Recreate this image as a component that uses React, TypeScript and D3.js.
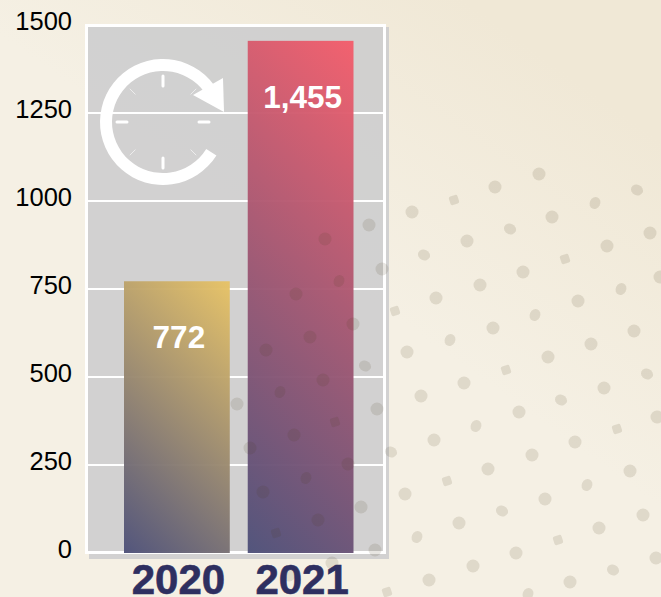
import React, { useEffect, useRef } from "react";
import * as d3 from "d3";

const years = ["2020", "2021"];
const values = [772, 1455];
const valueLabels = ["772", "1,455"];
const barTopColors = ["#e8c365", "#f45d6b"];
const yTicks = [0, 250, 500, 750, 1000, 1250, 1500];

// background dots
const roundDots = [
  [539, 174], [495, 187], [412, 212], [552, 217], [467, 241], [607, 246], [650, 233], [523, 272],
  [480, 285], [436, 298], [578, 301], [493, 328], [634, 331], [591, 344], [407, 352], [548, 357],
  [464, 383], [421, 396], [604, 388], [519, 412], [434, 440], [575, 442], [532, 455], [488, 469],
  [630, 471], [405, 494], [545, 499], [459, 523], [599, 528], [643, 515], [516, 553], [473, 566],
  [429, 580], [570, 582], [656, 558], [657, 417], [660, 277], [369, 225], [382, 269], [325, 239],
  [296, 294], [353, 324], [310, 337], [266, 350], [323, 380], [377, 409], [237, 404], [294, 435],
  [250, 448], [348, 464], [263, 492], [361, 507], [318, 520], [375, 550], [332, 563], [289, 575],
];
const ovalDots = [
  [339, 281], [365, 366], [280, 392], [391, 452], [306, 478], [424, 255], [510, 229], [595, 203],
  [637, 190], [621, 289], [535, 315], [450, 340], [647, 374], [561, 400], [476, 426], [587, 485],
  [502, 511], [417, 537], [613, 570], [528, 594],
];
const squareDots = [
  [454, 200], [565, 259], [395, 311], [506, 370], [617, 429], [447, 481], [558, 540], [387, 592],
  [335, 422], [276, 533],
];

export default function App() {
  const ref = useRef<SVGSVGElement>(null);

  useEffect(() => {
    const svg = d3.select(ref.current);
    svg.selectAll("*").remove();

    const y = d3.scaleLinear().domain([0, 1500]).range([553, 25]);
    const x = d3.scaleBand().domain(years).range([124, 353.5]).paddingInner(18 / 124);

    const defs = svg.append("defs");
    const bg = defs
      .append("linearGradient")
      .attr("id", "bg")
      .attr("gradientUnits", "userSpaceOnUse")
      .attr("x1", 474)
      .attr("y1", 7)
      .attr("x2", 300)
      .attr("y2", 250);
    bg.append("stop").attr("offset", 0).attr("stop-color", "#f0e8d6");
    bg.append("stop").attr("offset", 1).attr("stop-color", "#f5f0e4");

    // bar gradients run at 45 degrees from the top right corner
    years.forEach((year, i) => {
      const right = x(year)! + x.bandwidth();
      const top = y(values[i]);
      const span = (x.bandwidth() + y(0) - top) / 2;
      const grad = defs
        .append("linearGradient")
        .attr("id", "bar" + year)
        .attr("gradientUnits", "userSpaceOnUse")
        .attr("x1", right)
        .attr("y1", top)
        .attr("x2", right - span)
        .attr("y2", top + span);
      grad.append("stop").attr("offset", 0).attr("stop-color", barTopColors[i]);
      grad.append("stop").attr("offset", 1).attr("stop-color", "#4d5079");
    });

    svg.append("rect").attr("width", 661).attr("height", 597).attr("fill", "url(#bg)");

    svg.append("rect").attr("x", 89).attr("y", 27).attr("width", 300).attr("height", 532)
      .attr("fill", "#c5c7cb").attr("opacity", 0.75);

    // white frame
    svg.append("rect").attr("x", 86.5).attr("y", 25.5).attr("width", 298).attr("height", 527)
      .attr("fill", "none").attr("stroke", "#fff").attr("stroke-width", 3);

    svg.append("rect").attr("x", 88).attr("y", 27).attr("width", 1).attr("height", 524)
      .attr("fill", "#c5c7cb").attr("opacity", 0.75);

    svg.append("g")
      .selectAll("line")
      .data(yTicks.slice(1, -1))
      .enter()
      .append("line")
      .attr("x1", 88)
      .attr("x2", 384)
      .attr("y1", (d) => y(d))
      .attr("y2", (d) => y(d))
      .attr("stroke", "#fff")
      .attr("stroke-width", 2);

    svg.append("g")
      .selectAll("rect")
      .data(years)
      .enter()
      .append("rect")
      .attr("x", (d) => x(d))
      .attr("width", x.bandwidth())
      .attr("y", (d, i) => y(values[i]))
      .attr("height", (d, i) => y(0) - y(values[i]))
      .attr("fill", (d) => `url(#bar${d})`)
      .attr("opacity", 0.96);

    // dot pattern
    const dots = svg.append("g").attr("fill", "#4a4020").attr("fill-opacity", 0.13);
    dots.selectAll("circle")
      .data(roundDots)
      .enter()
      .append("circle")
      .attr("cx", (d) => d[0])
      .attr("cy", (d) => d[1])
      .attr("r", 6.5);
    dots.selectAll("ellipse")
      .data(ovalDots)
      .enter()
      .append("ellipse")
      .attr("rx", 6.2)
      .attr("ry", 5.2)
      .attr("transform", (d) => `translate(${d[0]},${d[1]}) rotate(${(d[0] + d[1]) % 2 ? 25 : -65})`);
    dots.selectAll("rect")
      .data(squareDots)
      .enter()
      .append("rect")
      .attr("x", -4.5)
      .attr("y", -4.5)
      .attr("width", 9)
      .attr("height", 9)
      .attr("rx", 2)
      .attr("transform", (d) => `translate(${d[0]},${d[1]}) rotate(-18)`);

    // y axis labels
    const yAxis = svg
      .append("g")
      .attr("transform", "translate(72,0)")
      .call(d3.axisLeft(y).tickValues(yTicks).tickSize(0).tickPadding(0).tickFormat(d3.format("d")));
    yAxis.select(".domain").remove();
    yAxis.selectAll("text")
      .attr("font-family", "'Liberation Sans', Arial, sans-serif")
      .attr("font-size", 25.5)
      .attr("fill", "#000")
      .attr("dy", "0.32em")
      .attr("y", -3.5);

    // year labels
    const xAxis = svg
      .append("g")
      .attr("transform", "translate(1.5,594)")
      .call(d3.axisBottom(x).tickSize(0).tickPadding(0));
    xAxis.select(".domain").remove();
    xAxis.selectAll("text")
      .attr("font-family", "'Liberation Sans', Arial, sans-serif")
      .attr("font-size", 42)
      .attr("font-weight", "bold")
      .attr("fill", "#2e2f60")
      .attr("stroke", "#2e2f60")
      .attr("stroke-width", 0.6)
      .attr("y", 0)
      .attr("dy", 0);

    // value labels on the bars
    svg.append("g")
      .selectAll("text")
      .data(years)
      .enter()
      .append("text")
      .attr("x", (d) => x(d)! + x.bandwidth() / 2 + 2)
      .attr("y", (d, i) => y(values[i]) + 67)
      .attr("text-anchor", "middle")
      .attr("font-family", "'Liberation Sans', Arial, sans-serif")
      .attr("font-size", 31.5)
      .attr("font-weight", "bold")
      .attr("fill", "#fff")
      .text((d, i) => valueLabels[i]);

    // clock icon
    const clock = svg.append("g").attr("transform", "translate(163,122)");
    const ring = d3.arc()({
      innerRadius: 51,
      outerRadius: 63,
      startAngle: (122 * Math.PI) / 180,
      endAngle: (420 * Math.PI) / 180,
    });
    clock.append("path").attr("d", ring).attr("fill", "#fff");
    clock.append("path").attr("d", d3.line()([[60, -44], [61, -10], [30, -27]]) + "Z").attr("fill", "#fff");

    const hands = d3.range(0, 360, 90);
    clock.selectAll("line.major")
      .data(hands)
      .enter()
      .append("line")
      .attr("class", "major")
      .attr("y1", -36)
      .attr("y2", -46)
      .attr("transform", (d) => `rotate(${d})`)
      .attr("stroke", "#fff")
      .attr("stroke-width", 3)
      .attr("stroke-linecap", "round");
    clock.selectAll("line.minor")
      .data(hands.map((d) => d + 45))
      .enter()
      .append("line")
      .attr("class", "minor")
      .attr("y1", -39)
      .attr("y2", -47)
      .attr("transform", (d) => `rotate(${d})`)
      .attr("stroke", "#fff")
      .attr("stroke-opacity", 0.7)
      .attr("stroke-width", 0.8);
  }, []);

  return (
    <svg
      ref={ref}
      width={661}
      height={597}
      style={{ position: "absolute", left: 0, top: 0, display: "block" }}
    />
  );
}
